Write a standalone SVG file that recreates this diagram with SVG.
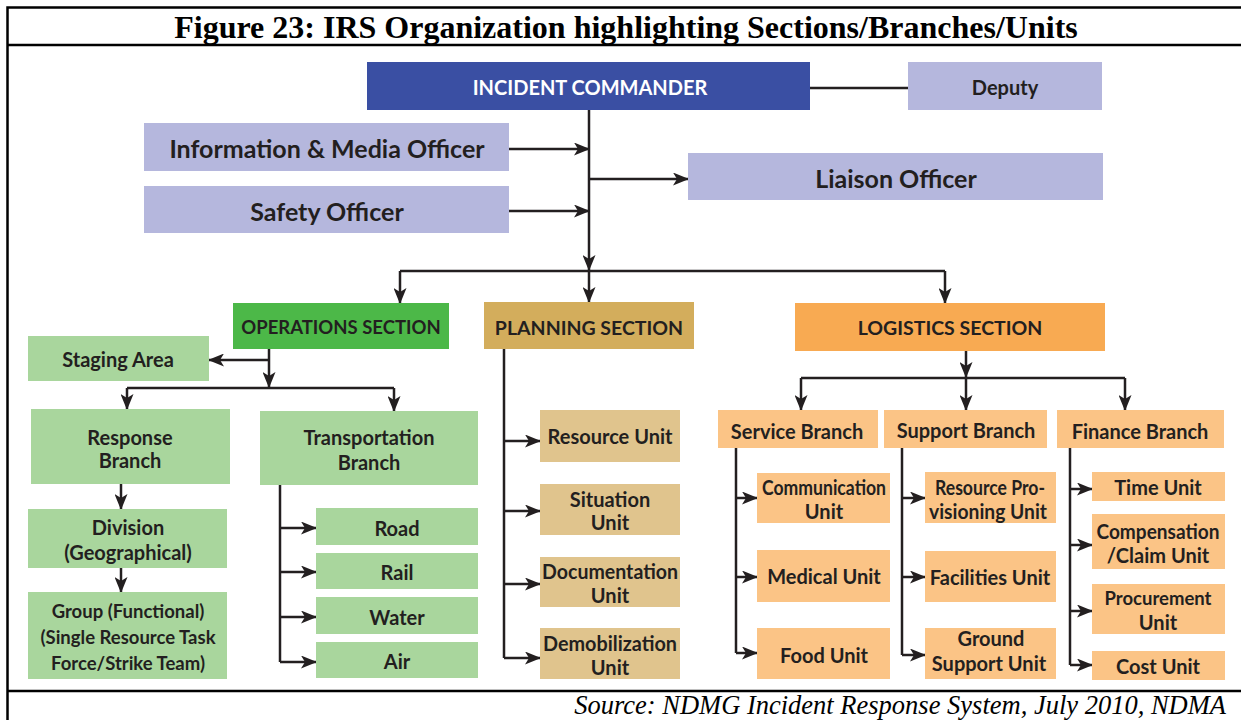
<svg xmlns="http://www.w3.org/2000/svg" width="1241" height="720" viewBox="0 0 1241 720">
  <defs>
    <marker id="arrow" markerUnits="userSpaceOnUse" markerWidth="16" markerHeight="13" refX="15" refY="6.5" orient="auto">
      <path d="M0,0 L16,6.5 L0,13 L4,6.5 Z" fill="#231f20"/>
    </marker>
    <style>
      .frame { stroke: #000; stroke-width: 2.5; fill: none; }
      .title { font-family: "Liberation Serif", "Times New Roman", serif; font-weight: bold; font-size: 32px; fill: #000; }
      .source { font-family: "Liberation Serif", "Times New Roman", serif; font-style: italic; font-size: 26.5px; fill: #000; }
      .box text { font-family: Lato, "Noto Sans", sans-serif; font-weight: bold; fill: #231f20; text-anchor: middle; dominant-baseline: central; }
      .lbl { font-size: 20px; }
      .sec { font-size: 19.5px; }
      .sm { font-size: 18.5px; }
      .big { font-size: 25px; }
      .cmd rect { fill: #3a4fa3; }
      .cmd text { fill: #ffffff; }
      .staff rect { fill: #b5b7dd; }
      .ops rect { fill: #4cb848; }
      .opsu rect { fill: #a9d69d; }
      .plan rect { fill: #d3ad5c; }
      .planu rect { fill: #e0c48d; }
      .log rect { fill: #f8aa52; }
      .logu rect { fill: #fbc486; }
      .conn path { stroke: #231f20; stroke-width: 2.5; fill: none; }
      .conn .a { marker-end: url(#arrow); }
    </style>
  </defs>

  <rect width="1241" height="720" fill="#ffffff"/>

  <!-- page frame and caption rules -->
  <path class="frame" d="M7.5,720 V7.5 H1241 M7.5,45 H1241 M7.5,691 H1241"/>
  <text class="title" x="626" y="38" text-anchor="middle">Figure 23: IRS Organization highlighting Sections/Branches/Units</text>
  <text class="source" x="1226" y="714" text-anchor="end">Source: NDMG Incident Response System, July 2010, NDMA</text>

  <!-- connectors -->
  <g id="connectors" class="conn">
    <path d="M810,88 H908"/>
    <path class="a" d="M589,110 V270"/>
    <path class="a" d="M509,149 H589"/>
    <path class="a" d="M509,211 H589"/>
    <path class="a" d="M589,179 H688"/>
    <path d="M400,271 H945"/>
    <path class="a" d="M400,271 V303"/>
    <path class="a" d="M589,271 V302"/>
    <path class="a" d="M945,271 V303"/>

    <!-- operations -->
    <path class="a" d="M269,349 V387"/>
    <path class="a" d="M269,360 H209"/>
    <path d="M127,388 H394"/>
    <path class="a" d="M127,388 V409"/>
    <path class="a" d="M394,388 V411"/>
    <path class="a" d="M121,484 V509"/>
    <path class="a" d="M121,568 V592"/>
    <path d="M280,485 V662"/>
    <path class="a" d="M280,528 H316"/>
    <path class="a" d="M280,572 H316"/>
    <path class="a" d="M280,617 H316"/>
    <path class="a" d="M280,662 H316"/>

    <!-- planning -->
    <path d="M504,349 V658"/>
    <path class="a" d="M504,441 H540"/>
    <path class="a" d="M504,511 H540"/>
    <path class="a" d="M504,584 H540"/>
    <path class="a" d="M504,658 H540"/>

    <!-- logistics -->
    <path class="a" d="M966,351 V377"/>
    <path d="M801,378 H1125"/>
    <path class="a" d="M801,378 V410"/>
    <path class="a" d="M966,378 V410"/>
    <path class="a" d="M1125,378 V410"/>
    <path d="M736,448 V653"/>
    <path class="a" d="M736,498 H757"/>
    <path class="a" d="M736,577 H757"/>
    <path class="a" d="M736,653 H757"/>
    <path d="M902,448 V655"/>
    <path class="a" d="M902,498 H925"/>
    <path class="a" d="M902,577 H925"/>
    <path class="a" d="M902,655 H925"/>
    <path d="M1070,448 V665"/>
    <path class="a" d="M1070,489 H1092"/>
    <path class="a" d="M1070,545 H1092"/>
    <path class="a" d="M1070,611 H1092"/>
    <path class="a" d="M1070,665 H1092"/>
  </g>

  <!-- command staff -->
  <g id="incident-commander" class="box cmd"><rect x="367" y="62" width="443" height="48"/><text class="lbl" x="590" y="87">INCIDENT COMMANDER</text></g>
  <g id="deputy" class="box staff"><rect x="908" y="62" width="194" height="48"/><text class="lbl" x="1005" y="87">Deputy</text></g>
  <g id="info-media-officer" class="box staff"><rect x="144" y="123" width="365" height="48"/><text class="big" x="327" y="148">Information &amp; Media Officer</text></g>
  <g id="safety-officer" class="box staff"><rect x="144" y="186" width="365" height="47"/><text class="big" x="327" y="211">Safety Officer</text></g>
  <g id="liaison-officer" class="box staff"><rect x="688" y="153" width="415" height="47"/><text class="big" x="896" y="178">Liaison Officer</text></g>

  <!-- sections -->
  <g id="operations-section" class="box ops"><rect x="233" y="303" width="216" height="46"/><text class="sm" x="341" y="327">OPERATIONS SECTION</text></g>
  <g id="planning-section" class="box plan"><rect x="484" y="302" width="210" height="47"/><text class="sec" x="589" y="327">PLANNING SECTION</text></g>
  <g id="logistics-section" class="box log"><rect x="795" y="303" width="310" height="48"/><text class="sec" x="950" y="327">LOGISTICS SECTION</text></g>

  <!-- operations units -->
  <g id="staging-area" class="box opsu"><rect x="28" y="336" width="181" height="45"/><text class="lbl" x="118" y="359">Staging Area</text></g>
  <g id="response-branch" class="box opsu"><rect x="31" y="409" width="199" height="75"/><text class="lbl" x="130" y="437">Response</text><text class="lbl" x="130" y="460">Branch</text></g>
  <g id="transportation-branch" class="box opsu"><rect x="260" y="411" width="218" height="74"/><text class="lbl" x="369" y="437">Transportation</text><text class="lbl" x="369" y="462">Branch</text></g>
  <g id="division" class="box opsu"><rect x="28" y="509" width="199" height="59"/><text class="lbl" x="128" y="527">Division</text><text class="lbl" x="128" y="552">(Geographical)</text></g>
  <g id="group" class="box opsu"><rect x="28" y="592" width="199" height="87"/><text class="sm" x="128" y="611">Group (Functional)</text><text class="sm" x="128" y="637">(Single Resource Task</text><text class="sm" x="128" y="663">Force/Strike Team)</text></g>
  <g id="road" class="box opsu"><rect x="316" y="508" width="162" height="37"/><text class="lbl" x="397" y="528">Road</text></g>
  <g id="rail" class="box opsu"><rect x="316" y="553" width="162" height="36"/><text class="lbl" x="397" y="572">Rail</text></g>
  <g id="water" class="box opsu"><rect x="316" y="597" width="162" height="37"/><text class="lbl" x="397" y="617">Water</text></g>
  <g id="air" class="box opsu"><rect x="316" y="642" width="162" height="36"/><text class="lbl" x="397" y="661">Air</text></g>

  <!-- planning units -->
  <g id="resource-unit" class="box planu"><rect x="540" y="410" width="140" height="52"/><text class="lbl" x="610" y="436">Resource Unit</text></g>
  <g id="situation-unit" class="box planu"><rect x="540" y="484" width="140" height="51"/><text class="lbl" x="610" y="499">Situation</text><text class="lbl" x="610" y="522">Unit</text></g>
  <g id="documentation-unit" class="box planu"><rect x="540" y="557" width="140" height="50"/><text class="lbl" x="610" y="571" textLength="136" lengthAdjust="spacingAndGlyphs">Documentation</text><text class="lbl" x="610" y="595">Unit</text></g>
  <g id="demobilization-unit" class="box planu"><rect x="540" y="628" width="140" height="51"/><text class="lbl" x="610" y="643" textLength="134" lengthAdjust="spacingAndGlyphs">Demobilization</text><text class="lbl" x="610" y="667">Unit</text></g>

  <!-- logistics branches -->
  <g id="service-branch" class="box logu"><rect x="718" y="410" width="160" height="38"/><text class="lbl" x="797" y="431">Service Branch</text></g>
  <g id="support-branch" class="box logu"><rect x="884" y="410" width="163" height="38"/><text class="lbl" x="966" y="430">Support Branch</text></g>
  <g id="finance-branch" class="box logu"><rect x="1057" y="410" width="167" height="38"/><text class="lbl" x="1140" y="431">Finance Branch</text></g>

  <!-- logistics units -->
  <g id="communication-unit" class="box logu"><rect x="757" y="473" width="133" height="50"/><text class="lbl" x="824" y="487" textLength="124" lengthAdjust="spacingAndGlyphs">Communication</text><text class="lbl" x="824" y="511">Unit</text></g>
  <g id="medical-unit" class="box logu"><rect x="757" y="550" width="133" height="52"/><text class="lbl" x="824" y="576">Medical Unit</text></g>
  <g id="food-unit" class="box logu"><rect x="757" y="628" width="133" height="51"/><text class="lbl" x="824" y="655">Food Unit</text></g>
  <g id="resource-provisioning-unit" class="box logu"><rect x="925" y="472" width="131" height="51"/><text class="lbl" x="990" y="487" textLength="110" lengthAdjust="spacingAndGlyphs">Resource Pro-</text><text class="lbl" x="988" y="511" textLength="118" lengthAdjust="spacingAndGlyphs">visioning Unit</text></g>
  <g id="facilities-unit" class="box logu"><rect x="925" y="551" width="131" height="51"/><text class="lbl" x="990" y="577">Facilities Unit</text></g>
  <g id="ground-support-unit" class="box logu"><rect x="925" y="628" width="131" height="51"/><text class="lbl" x="991" y="638">Ground</text><text class="lbl" x="989" y="663">Support Unit</text></g>
  <g id="time-unit" class="box logu"><rect x="1092" y="472" width="133" height="29"/><text class="lbl" x="1158" y="487">Time Unit</text></g>
  <g id="compensation-unit" class="box logu"><rect x="1092" y="514" width="133" height="55"/><text class="lbl" x="1158" y="531" textLength="123" lengthAdjust="spacingAndGlyphs">Compensation</text><text class="lbl" x="1158" y="555">/Claim Unit</text></g>
  <g id="procurement-unit" class="box logu"><rect x="1092" y="584" width="133" height="50"/><text class="sm" x="1158" y="598">Procurement</text><text class="lbl" x="1158" y="622">Unit</text></g>
  <g id="cost-unit" class="box logu"><rect x="1092" y="651" width="133" height="29"/><text class="lbl" x="1158" y="666">Cost Unit</text></g>
</svg>
